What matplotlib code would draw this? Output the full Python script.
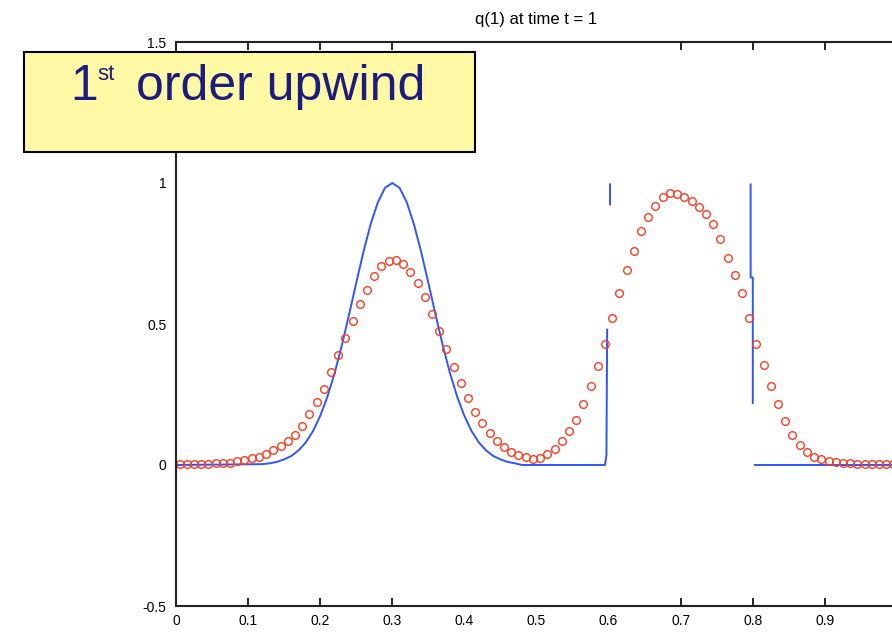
import matplotlib
matplotlib.use("Agg")
import matplotlib.pyplot as plt
import numpy as np
from matplotlib.patches import Rectangle

plt.rcParams["font.family"] = ["Liberation Sans", "DejaVu Sans"]

# numerical solution (1st order upwind), one value per cell, dx = 0.01
x_num = np.linspace(0.005, 0.995, 100)
q_num = [
    0.004, 0.004, 0.004, 0.004, 0.005, 0.006, 0.007, 0.008, 0.014, 0.018,
    0.024, 0.030, 0.040, 0.052, 0.068, 0.085, 0.108, 0.140, 0.180, 0.225,
    0.270, 0.330, 0.390, 0.450, 0.510, 0.570, 0.620, 0.670, 0.705, 0.725,
    0.728, 0.712, 0.685, 0.644, 0.594, 0.536, 0.474, 0.411, 0.349, 0.291,
    0.237, 0.189, 0.148, 0.114, 0.085, 0.063, 0.047, 0.035, 0.027, 0.022,
    0.026, 0.040, 0.058, 0.085, 0.120, 0.160, 0.215, 0.280, 0.350, 0.430,
    0.520, 0.610, 0.690, 0.760, 0.830, 0.880, 0.920, 0.950, 0.965, 0.962,
    0.952, 0.935, 0.915, 0.890, 0.855, 0.800, 0.735, 0.675, 0.610, 0.520,
    0.430, 0.355, 0.280, 0.215, 0.155, 0.105, 0.070, 0.045, 0.030, 0.020,
    0.014, 0.010, 0.008, 0.006, 0.005, 0.004, 0.004, 0.003, 0.003, 0.003,
]

# exact solution as it shows in the picture (nan = gap in the line)
x_exact = [
    0.0, 0.12, 0.13, 0.14, 0.15, 0.16, 0.17, 0.18, 0.19, 0.20, 0.21, 0.22,
    0.23, 0.24, 0.25, 0.26, 0.27, 0.28, 0.29, 0.30, 0.31, 0.32, 0.33, 0.34,
    0.35, 0.36, 0.37, 0.38, 0.39, 0.40, 0.41, 0.42, 0.43, 0.44, 0.45, 0.46,
    0.47, 0.48, 0.595, 0.597, 0.598, np.nan,
    0.602, 0.602, np.nan,
    0.797, 0.797, 0.800, 0.800, np.nan,
    0.803, 1.0,
]
q_exact = [
    0.0, 0.003, 0.006, 0.011, 0.020, 0.032, 0.052, 0.080, 0.120, 0.174,
    0.242, 0.326, 0.424, 0.533, 0.646, 0.756, 0.854, 0.932, 0.983, 1.0,
    0.983, 0.932, 0.854, 0.756, 0.646, 0.533, 0.424, 0.326, 0.242, 0.174,
    0.120, 0.080, 0.052, 0.032, 0.020, 0.011, 0.006, 0.0, 0.0, 0.035,
    0.48, np.nan,
    0.995, 0.924, np.nan,
    0.995, 0.665, 0.665, 0.22, np.nan,
    0.0, 0.0,
]

x_ticks = [0, 0.1, 0.2, 0.3, 0.4, 0.5, 0.6, 0.7, 0.8, 0.9, 1]
y_ticks = [-0.5, 0, 0.5, 1, 1.5]
title = "q(1) at time t = 1"

fig = plt.figure(figsize=(8.92, 6.32), dpi=100)
W, H = 892, 632
ax = fig.add_axes([176 / W, 1 - 606 / H, 721 / W, 564 / H])

ax.plot(x_exact, q_exact, color="#2f55ff", lw=1.4)
ax.plot(x_num, q_num, "o", mfc="none", mec="#ff3b1f", ms=5.5, mew=1.0)

ax.set_xlim(0, 1)
ax.set_ylim(-0.5, 1.5)
ax.set_xticks(x_ticks)
ax.set_xticklabels([f"{v:g}" for v in x_ticks])
ax.set_yticks(y_ticks)
ax.set_yticklabels([f"{v:g}" for v in y_ticks])
ax.tick_params(axis="x", direction="in", top=True, length=6, width=1.2,
               labelsize=10, pad=6)
ax.tick_params(axis="y", direction="in", length=0, labelsize=10, pad=7)
for i, t in enumerate(ax.xaxis.get_major_ticks()):
    if x_ticks[i] in (0.4, 0.5, 0.6):
        t.tick1line.set_visible(False)
        t.tick2line.set_visible(False)
for s in ax.spines.values():
    s.set_linewidth(1.5)
    s.set_color("#222222")
ax.set_title(title, fontsize=12, pad=13)

# yellow label box on top of everything
box = Rectangle((24 / W, 1 - 152 / H), 451 / W, 100 / H,
                transform=fig.transFigure, facecolor="#fff9a6",
                edgecolor="black", lw=1.5, zorder=10)
fig.add_artist(box)
navy = "#1c1c7e"
fig.text(70 / W, 1 - 100 / H, "1", fontsize=36, color=navy,
         va="baseline", ha="left", zorder=11)
fig.text(97 / W, 1 - 80 / H, "st", fontsize=16, color=navy,
         va="baseline", ha="left", zorder=11)
fig.text(136 / W, 1 - 100 / H, "order upwind", fontsize=36, color=navy,
         va="baseline", ha="left", zorder=11)

fig.savefig("out.png", dpi=100)
